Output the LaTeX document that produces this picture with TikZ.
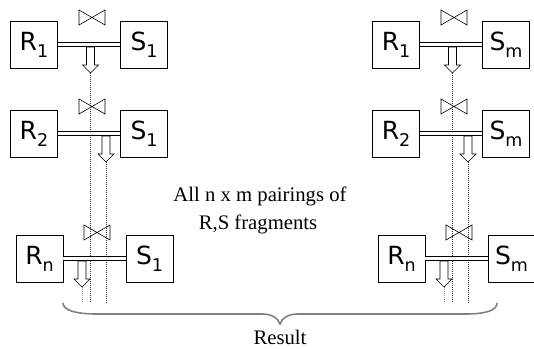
\documentclass[tikz,border=0pt]{standalone}
\usepackage{fontspec}
\newfontfamily\boxfont{DejaVu Sans}
\newfontfamily\capfont{Liberation Serif}
% lowered, smaller index after a relation letter
\newcommand\lowsub[1]{\raisebox{-7pt}{\fontsize{17.5}{17.5}\selectfont #1}}

\begin{document}
\begin{tikzpicture}[x=1pt,y=-1pt,
  relbox/.style={draw, line width=0.8pt, minimum width=47pt, minimum height=47pt,
    inner sep=0pt, font=\boxfont\fontsize{25}{25}\selectfont},
  joinline/.style={draw, double, line width=0.7pt, double distance=3pt},
  guide/.style={line width=0.5pt, dash pattern=on 1pt off 1pt, draw=black!80},
  faintguide/.style={guide, draw=black!45},
  caption/.style={font=\capfont\fontsize{20.7}{27.5}\selectfont, inner sep=0pt},
  bracepath/.style={draw=black!50, line width=1.6pt},
  bowtie/.pic={\draw[line width=0.6pt, line join=miter]
    (-13,-7.5) -- (13,7.5) -- (13,-7.5) -- (-13,7.5) -- cycle;},
  blockarrow/.pic={\draw[line width=0.6pt, fill=white]
    (-4,0) -- (4,0) -- (4,18) -- (8,18) -- (0,26) -- (-8,18) -- (-4,18) -- cycle;},
]
\useasboundingbox (0,0) rectangle (534,348);

% two columns of fragment pairs: S_1 on the left, S_m on the right
\foreach \c/\dx/\s in {a/0/1, b/362/m} {
  \begin{scope}[xshift=\dx]
    % guide lines running down to the result brace
    \coordinate (t1\c) at (90.5,73);   \coordinate (b1\c) at (90.5,303);
    \coordinate (t2\c) at (106,162);   \coordinate (b2\c) at (106,303);
    \coordinate (t3\c) at (82,287);    \coordinate (b3\c) at (82,303);
    \draw[guide] (t1\c) -- (b1\c);
    \draw[guide] (t2\c) -- (b2\c);
    \draw[faintguide] (t3\c) -- (b3\c);

    % row 1
    \node[relbox] (R1\c) at (34,44.5) {R\lowsub{1}};
    \node[relbox] (S1\c) at (144,44.5) {S\lowsub{\s}};
    \draw[joinline] (R1\c) -- (S1\c);
    \pic at (92,17.5) {bowtie};
    \pic at (90.5,47) {blockarrow};

    % row 2
    \node[relbox] (R2\c) at (34,133.5) {R\lowsub{2}};
    \node[relbox] (S2\c) at (144,133.5) {S\lowsub{\s}};
    \draw[joinline] (R2\c) -- (S2\c);
    \pic at (92,106.5) {bowtie};
    \pic at (106,136) {blockarrow};

    % row n
    \node[relbox] (R3\c) at (39.5,258.5) {R\lowsub{n}};
    \node[relbox] (S3\c) at (149.5,258.5) {S\lowsub{\s}};
    \draw[joinline] (R3\c) -- (S3\c);
    \pic at (97,232.5) {bowtie};
    \pic at (82,261) {blockarrow};
  \end{scope}
}

% captions
\node[caption, anchor=base] (pairs1) at (260,201.7) {All n x m pairings of};
\node[caption, anchor=base] (pairs2) at (258,229) {R,S fragments};

% brace collecting all results
\coordinate (braceL) at (63,303);
\coordinate (braceR) at (497,303);
\coordinate (braceTip) at (280,324);
\draw[bracepath] (braceL) .. controls (63,310) and (75,314) .. (97,314)
  -- (262,314) .. controls (272,314) and (278,318) .. (braceTip)
  .. controls (282,318) and (288,314) .. (298,314)
  -- (465,314) .. controls (487,314) and (497,310) .. (braceR);
\node[caption, anchor=base] (result) at (280,344) {Result};
\end{tikzpicture}
\end{document}
